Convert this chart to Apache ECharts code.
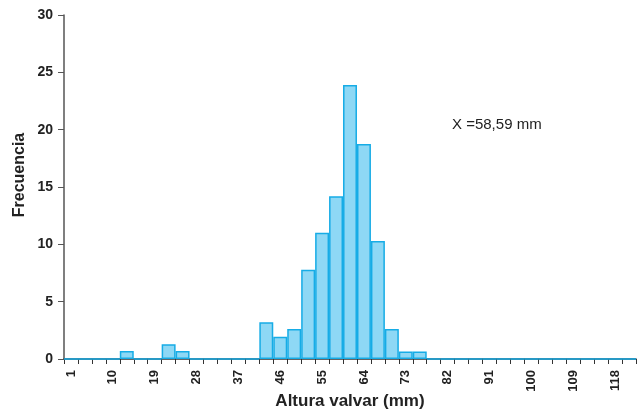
<!DOCTYPE html>
<html>
<head>
<meta charset="utf-8">
<script src="https://cdn.jsdelivr.net/npm/echarts@6/dist/echarts.min.js"></script>
<style>
  html, body { margin: 0; padding: 0; background: #fff; }
  #main { width: 642px; height: 411px; }
</style>
</head>
<body>
<div id="main"></div>
<script>
// clases de altura valvar (mm), ancho 3
const clases = [];
for (let c = 1; c <= 121; c += 3) clases.push(String(c));

// frecuencia por clase
const frecuencias = {
  '13': 0.70, '22': 1.28, '25': 0.70,
  '43': 3.20, '46': 1.95, '49': 2.62, '52': 7.78, '55': 11.0,
  '58': 14.2, '61': 23.9, '64': 18.75, '67': 10.3, '70': 2.62,
  '73': 0.65, '76': 0.65
};
const media = 'X =58,59 mm';

const valores = clases.map(c => frecuencias[c] || 0);

const chart = echarts.init(document.getElementById('main'));
const font = 'Liberation Sans, Arial, sans-serif';

const option = {
  animation: false,
  grid: { left: 64, right: 6, top: 15, bottom: 52, outerBoundsMode: 'none', containLabel: false },
  xAxis: {
    type: 'category',
    data: clases,
    name: 'Altura valvar (mm)',
    nameLocation: 'middle',
    nameGap: 34,
    nameMoveOverlap: false,
    nameTextStyle: { fontFamily: font, fontWeight: 'bold', fontSize: 17, color: '#222' },
    axisLine: { lineStyle: { color: '#333', width: 1.5 } },
    axisTick: { show: true, interval: 0, length: 5, lineStyle: { color: '#333' } },
    axisLabel: {
      interval: 2, rotate: 90, margin: 11,
      fontFamily: font, fontWeight: 'bold', fontSize: 13, color: '#222'
    }
  },
  yAxis: {
    type: 'value',
    min: 0, max: 30, interval: 5,
    name: 'Frecuencia',
    nameLocation: 'middle',
    nameGap: 36,
    nameMoveOverlap: false,
    nameTextStyle: { fontFamily: font, fontWeight: 'bold', fontSize: 16, color: '#222', padding: [0, 0, 0, 24] },
    axisLine: { show: true, lineStyle: { color: '#555', width: 1.5 } },
    axisTick: { show: true, length: 6, lineStyle: { color: '#555' } },
    splitLine: { show: false },
    axisLabel: { margin: 11, fontFamily: font, fontWeight: 'bold', fontSize: 14, color: '#222' }
  },
  series: [{
    type: 'bar',
    data: valores,
    barCategoryGap: 0,
    itemStyle: { color: '#8ed8f5', borderColor: '#16ace6', borderWidth: 1.5 }
  }],
  graphic: [{
    type: 'text',
    left: 452, top: 117,
    style: { text: media, font: '15px ' + font, fill: '#222' }
  }]
};

chart.setOption(option);
</script>
</body>
</html>
